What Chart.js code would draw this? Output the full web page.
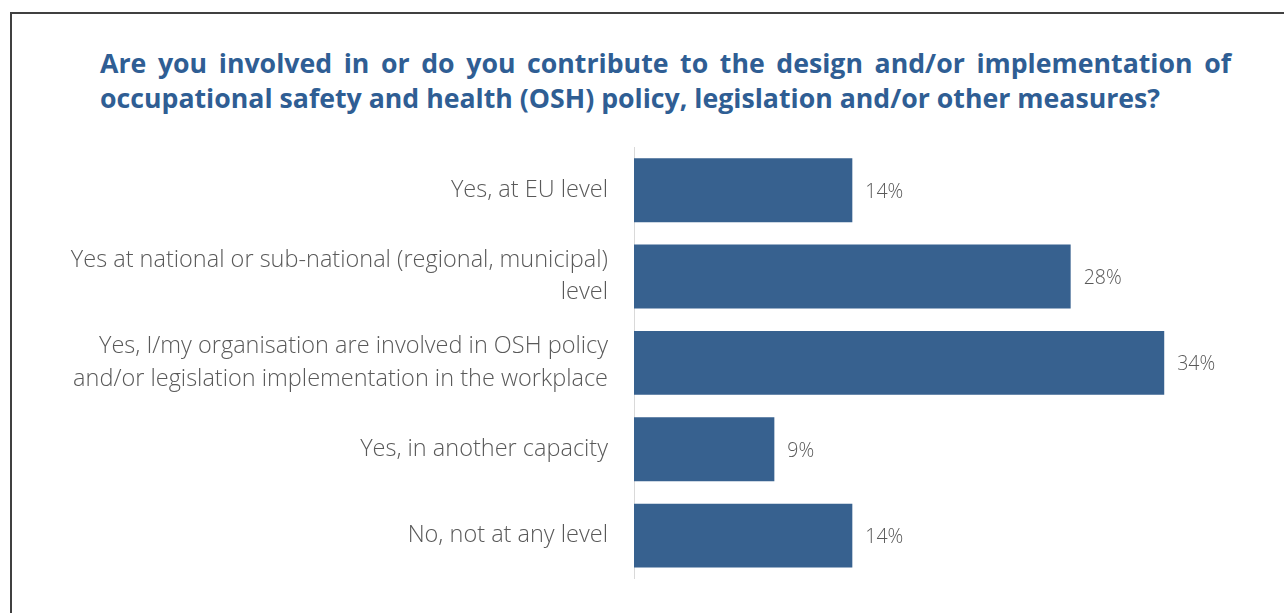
<!DOCTYPE html>
<html>
<head>
<meta charset="utf-8">
<script src="https://cdn.jsdelivr.net/npm/chart.js@4"></script>
<style>
  body { margin: 0; background: #fff; width: 1284px; height: 613px; overflow: hidden; position: relative; }
  .frame { position: absolute; left: 10px; top: 12px; width: 1290px; height: 640px; border: 2px solid #404040; }
  .title { position: absolute; left: 100px; width: 1131px; font-family: "Open Sans", sans-serif; font-weight: 700; font-size: 26.7px; color: #2F5E94; white-space: nowrap; }
  .t1 { top: 44px; text-align: justify; text-align-last: justify; white-space: normal; }
  .t2 { top: 79px; }
  canvas { position: absolute; left: 0; top: 0; }
</style>
</head>
<body>
<div class="frame"></div>
<div class="title t1">Are you involved in or do you contribute to the design and/or implementation of</div>
<div class="title t2">occupational safety and health (OSH) policy, legislation and/or other measures?</div>
<canvas id="chart" width="1284" height="613"></canvas>
<script>
const categories = [
  "Yes, at EU level",
  ["Yes at national or sub-national (regional, municipal)", "level"],
  ["Yes, I/my organisation are involved in OSH policy", "and/or legislation implementation in the workplace"],
  "Yes, in another capacity",
  "No, not at any level"
];
const shares = [14, 28, 34, 9, 14];

const axisLeft = 634;
const labelColor = "#595959";

// percent labels just past the end of each bar
const valueLabels = {
  id: "valueLabels",
  afterDatasetsDraw(chart) {
    const ctx = chart.ctx;
    const meta = chart.getDatasetMeta(0);
    ctx.save();
    ctx.font = "300 19.5px 'Open Sans', sans-serif";
    ctx.fillStyle = labelColor;
    ctx.textBaseline = "middle";
    meta.data.forEach((bar, i) => {
      ctx.fillText(shares[i] + "%", bar.x + 13, bar.y + 2);
    });
    ctx.restore();
  }
};

new Chart(document.getElementById("chart"), {
  type: "bar",
  data: {
    labels: categories,
    datasets: [{
      data: shares,
      backgroundColor: "#37618F",
      categoryPercentage: 1,
      barPercentage: 0.74
    }]
  },
  options: {
    indexAxis: "y",
    responsive: false,
    animation: false,
    layout: { padding: { top: 147, bottom: 25, left: 0, right: 34 } },
    plugins: { legend: { display: false }, tooltip: { enabled: false } },
    scales: {
      x: { display: false, min: 0, max: 39.5 },
      y: {
        afterFit: s => { s.width = axisLeft; },
        grid: { display: false },
        border: { display: true, color: "#D9D9D9", width: 1 },
        ticks: {
          padding: 18,
          color: labelColor,
          font: { family: "'Open Sans', sans-serif", size: 23.5, weight: 300, lineHeight: 1.38 }
        }
      }
    }
  },
  plugins: [valueLabels]
});
</script>
</body>
</html>
